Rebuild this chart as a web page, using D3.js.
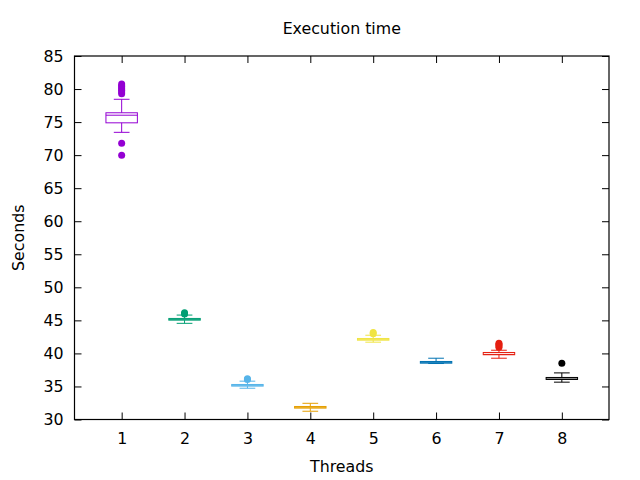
<!DOCTYPE html>
<html>
<head>
<meta charset="utf-8">
<script src="https://cdn.jsdelivr.net/npm/d3@7"></script>
<style>
  body { margin: 0; background: #fff; }
  text { font-family: "DejaVu Sans", sans-serif; font-size: 15.8px; fill: #000; }
</style>
</head>
<body>
<svg id="chart" width="640" height="480"></svg>
<script>
// data
var threads = [1, 2, 3, 4, 5, 6, 7, 8];
var colors = ['#9400d3', '#009e73', '#56b4e9', '#e69f00', '#f0e442', '#0072b2', '#e51e10', '#000000'];
var whiskerLow = [73.45, 44.55, 34.73, 31.25, 41.7, 38.47, 39.27, 35.65];
var q1 = [74.89, 45.03, 35.05, 31.72, 42.0, 38.52, 39.8, 36.06];
var median = [76.04, 45.15, 35.17, 31.85, 42.13, 38.65, 39.85, 36.12];
var q3 = [76.41, 45.29, 35.3, 31.97, 42.26, 38.78, 40.14, 36.36];
var whiskerHigh = [78.45, 45.8, 35.8, 32.45, 42.75, 39.27, 40.48, 37.05];
var outliers = [
  [80.75, 80.5, 80.3, 80.05, 79.8, 79.55, 79.3, 71.8, 70.0],
  [46.15, 45.95],
  [36.15, 36.05],
  [],
  [43.15, 42.98],
  [],
  [41.55, 41.35, 41.15, 40.92],
  [38.5]
];
var yTicks = [30, 35, 40, 45, 50, 55, 60, 65, 70, 75, 80, 85];

var svg = d3.select('#chart');

// plot area
var plotLeft = 74.5, plotRight = 609, plotTop = 56, plotBottom = 419.5;

var x = d3.scaleLinear().domain([0.25, 8.75]).range([plotLeft, plotRight]);
var y = d3.scaleLinear().domain([30, 85]).range([plotBottom, plotTop]);

var boxWidth = 0.5, capWidth = 0.25;

// axes, ticks point inward and are mirrored
svg.append('g')
  .attr('transform', 'translate(0,' + plotBottom + ')')
  .call(d3.axisBottom(x).tickValues(threads).tickSize(-7).tickPadding(13.5))
  .call(function(g) { g.select('.domain').remove(); });
svg.append('g')
  .attr('transform', 'translate(0,' + plotTop + ')')
  .call(d3.axisTop(x).tickValues(threads).tickSize(-7).tickFormat(''))
  .call(function(g) { g.select('.domain').remove(); });
svg.append('g')
  .attr('transform', 'translate(' + plotLeft + ',0)')
  .call(d3.axisLeft(y).tickValues(yTicks).tickSize(-7).tickPadding(11))
  .call(function(g) { g.select('.domain').remove(); });
svg.append('g')
  .attr('transform', 'translate(' + plotRight + ',0)')
  .call(d3.axisRight(y).tickValues(yTicks).tickSize(-7).tickFormat(''))
  .call(function(g) { g.select('.domain').remove(); });

svg.selectAll('.tick line').attr('stroke', '#000').attr('stroke-width', 1);
svg.selectAll('.tick text').style('font-size', '15.8px').attr('font-family', null);

svg.append('rect')
  .attr('x', plotLeft).attr('y', plotTop)
  .attr('width', plotRight - plotLeft).attr('height', plotBottom - plotTop)
  .attr('fill', 'none').attr('stroke', '#000').attr('stroke-width', 1.2);

// boxes
var boxes = svg.append('g').selectAll('g')
  .data(threads)
  .join('g')
  .attr('stroke', function(d, i) { return colors[i]; })
  .attr('fill', 'none')
  .attr('stroke-width', 1);

boxes.append('line')
  .attr('x1', function(d) { return x(d); }).attr('x2', function(d) { return x(d); })
  .attr('y1', function(d, i) { return y(q3[i]); })
  .attr('y2', function(d, i) { return y(whiskerHigh[i]); });
boxes.append('line')
  .attr('x1', function(d) { return x(d); }).attr('x2', function(d) { return x(d); })
  .attr('y1', function(d, i) { return y(q1[i]); })
  .attr('y2', function(d, i) { return y(whiskerLow[i]); });
boxes.append('line')
  .attr('x1', function(d) { return x(d - capWidth / 2); })
  .attr('x2', function(d) { return x(d + capWidth / 2); })
  .attr('y1', function(d, i) { return y(whiskerHigh[i]); })
  .attr('y2', function(d, i) { return y(whiskerHigh[i]); });
boxes.append('line')
  .attr('x1', function(d) { return x(d - capWidth / 2); })
  .attr('x2', function(d) { return x(d + capWidth / 2); })
  .attr('y1', function(d, i) { return y(whiskerLow[i]); })
  .attr('y2', function(d, i) { return y(whiskerLow[i]); });
boxes.append('rect')
  .attr('x', function(d) { return x(d - boxWidth / 2); })
  .attr('width', function(d) { return x(d + boxWidth / 2) - x(d - boxWidth / 2); })
  .attr('y', function(d, i) { return y(q3[i]); })
  .attr('height', function(d, i) { return y(q1[i]) - y(q3[i]); });
boxes.append('line')
  .attr('x1', function(d) { return x(d - boxWidth / 2); })
  .attr('x2', function(d) { return x(d + boxWidth / 2); })
  .attr('y1', function(d, i) { return y(median[i]); })
  .attr('y2', function(d, i) { return y(median[i]); });

// outliers
boxes.each(function(d, i) {
  d3.select(this).selectAll('circle')
    .data(outliers[i])
    .join('circle')
    .attr('cx', x(d))
    .attr('cy', function(v) { return y(v); })
    .attr('r', 3.5)
    .attr('stroke', 'none')
    .attr('fill', colors[i]);
});

// labels
svg.append('text')
  .attr('x', (plotLeft + plotRight) / 2).attr('y', 34)
  .attr('text-anchor', 'middle')
  .text('Execution time');
svg.append('text')
  .attr('x', (plotLeft + plotRight) / 2).attr('y', 472)
  .attr('text-anchor', 'middle')
  .text('Threads');
svg.append('text')
  .attr('transform', 'translate(24,' + (plotTop + plotBottom) / 2 + ') rotate(-90)')
  .attr('text-anchor', 'middle')
  .text('Seconds');
</script>
</body>
</html>
